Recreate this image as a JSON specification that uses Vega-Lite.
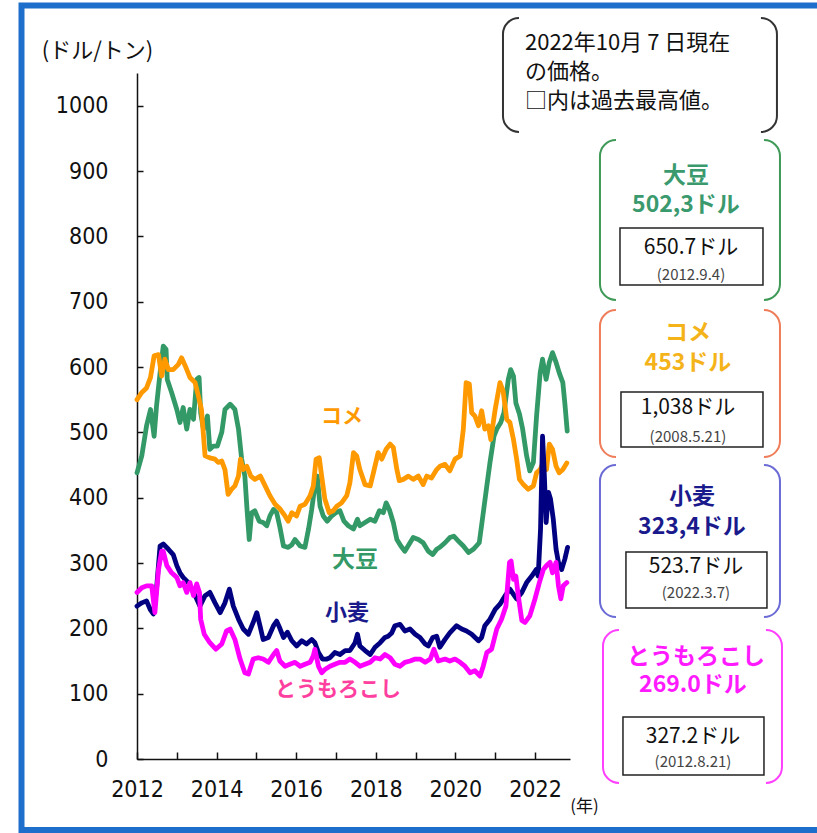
{
  "$schema": "https://vega.github.io/schema/vega-lite/v6.json",
  "autosize": {"type": "none"},
  "padding": {"left": 137, "top": 73, "right": 247, "bottom": 74},
  "width": 433,
  "height": 686,
  "background": "white",
  "config": {"view": {"stroke": null}},
  "datasets": {
    "prices": [
      {"item":"大豆","year":2012.0,"price":438},{"item":"大豆","year":2012.12,"price":464},{"item":"大豆","year":2012.24,"price":510},{"item":"大豆","year":2012.34,"price":535},{"item":"大豆","year":2012.43,"price":494},{"item":"大豆","year":2012.49,"price":540},{"item":"大豆","year":2012.58,"price":591},{"item":"大豆","year":2012.66,"price":632},{"item":"大豆","year":2012.73,"price":627},{"item":"大豆","year":2012.76,"price":581},{"item":"大豆","year":2012.87,"price":561},{"item":"大豆","year":2013.0,"price":535},{"item":"大豆","year":2013.08,"price":515},{"item":"大豆","year":2013.16,"price":538},{"item":"大豆","year":2013.25,"price":505},{"item":"大豆","year":2013.33,"price":535},{"item":"大豆","year":2013.42,"price":520},{"item":"大豆","year":2013.5,"price":581},{"item":"大豆","year":2013.56,"price":584},{"item":"大豆","year":2013.6,"price":530},{"item":"大豆","year":2013.67,"price":505},{"item":"大豆","year":2013.77,"price":525},{"item":"大豆","year":2013.83,"price":474},{"item":"大豆","year":2013.92,"price":479},{"item":"大豆","year":2014.02,"price":479},{"item":"大豆","year":2014.13,"price":500},{"item":"大豆","year":2014.21,"price":535},{"item":"大豆","year":2014.34,"price":543},{"item":"大豆","year":2014.46,"price":535},{"item":"大豆","year":2014.55,"price":505},{"item":"大豆","year":2014.63,"price":459},{"item":"大豆","year":2014.71,"price":433},{"item":"大豆","year":2014.77,"price":377},{"item":"大豆","year":2014.82,"price":336},{"item":"大豆","year":2014.88,"price":377},{"item":"大豆","year":2014.96,"price":380},{"item":"大豆","year":2015.07,"price":364},{"item":"大豆","year":2015.17,"price":362},{"item":"大豆","year":2015.26,"price":357},{"item":"大豆","year":2015.34,"price":372},{"item":"大豆","year":2015.43,"price":382},{"item":"大豆","year":2015.51,"price":377},{"item":"大豆","year":2015.59,"price":355},{"item":"大豆","year":2015.68,"price":326},{"item":"大豆","year":2015.8,"price":324},{"item":"大豆","year":2015.89,"price":328},{"item":"大豆","year":2015.97,"price":336},{"item":"大豆","year":2016.1,"price":326},{"item":"大豆","year":2016.22,"price":324},{"item":"大豆","year":2016.31,"price":352},{"item":"大豆","year":2016.39,"price":382},{"item":"大豆","year":2016.47,"price":418},{"item":"大豆","year":2016.53,"price":433},{"item":"大豆","year":2016.6,"price":387},{"item":"大豆","year":2016.68,"price":372},{"item":"大豆","year":2016.78,"price":364},{"item":"大豆","year":2016.89,"price":372},{"item":"大豆","year":2017.0,"price":377},{"item":"大豆","year":2017.1,"price":380},{"item":"大豆","year":2017.2,"price":364},{"item":"大豆","year":2017.31,"price":357},{"item":"大豆","year":2017.44,"price":352},{"item":"大豆","year":2017.54,"price":367},{"item":"大豆","year":2017.6,"price":357},{"item":"大豆","year":2017.73,"price":362},{"item":"大豆","year":2017.86,"price":367},{"item":"大豆","year":2017.98,"price":364},{"item":"大豆","year":2018.09,"price":380},{"item":"大豆","year":2018.19,"price":377},{"item":"大豆","year":2018.26,"price":392},{"item":"大豆","year":2018.34,"price":382},{"item":"大豆","year":2018.44,"price":362},{"item":"大豆","year":2018.53,"price":336},{"item":"大豆","year":2018.63,"price":326},{"item":"大豆","year":2018.73,"price":318},{"item":"大豆","year":2018.86,"price":331},{"item":"大豆","year":2018.94,"price":339},{"item":"大豆","year":2019.07,"price":336},{"item":"大豆","year":2019.19,"price":331},{"item":"大豆","year":2019.32,"price":318},{"item":"大豆","year":2019.43,"price":313},{"item":"大豆","year":2019.53,"price":321},{"item":"大豆","year":2019.61,"price":324},{"item":"大豆","year":2019.74,"price":331},{"item":"大豆","year":2019.86,"price":339},{"item":"大豆","year":2019.96,"price":341},{"item":"大豆","year":2020.07,"price":334},{"item":"大豆","year":2020.2,"price":326},{"item":"大豆","year":2020.33,"price":316},{"item":"大豆","year":2020.45,"price":321},{"item":"大豆","year":2020.6,"price":331},{"item":"大豆","year":2020.69,"price":372},{"item":"大豆","year":2020.79,"price":418},{"item":"大豆","year":2020.87,"price":454},{"item":"大豆","year":2020.97,"price":494},{"item":"大豆","year":2021.04,"price":505},{"item":"大豆","year":2021.14,"price":515},{"item":"大豆","year":2021.22,"price":530},{"item":"大豆","year":2021.33,"price":581},{"item":"大豆","year":2021.39,"price":596},{"item":"大豆","year":2021.46,"price":586},{"item":"大豆","year":2021.52,"price":545},{"item":"大豆","year":2021.61,"price":528},{"item":"大豆","year":2021.69,"price":505},{"item":"大豆","year":2021.79,"price":464},{"item":"大豆","year":2021.87,"price":441},{"item":"大豆","year":2021.96,"price":454},{"item":"大豆","year":2022.04,"price":525},{"item":"大豆","year":2022.13,"price":591},{"item":"大豆","year":2022.19,"price":612},{"item":"大豆","year":2022.28,"price":581},{"item":"大豆","year":2022.36,"price":607},{"item":"大豆","year":2022.44,"price":622},{"item":"大豆","year":2022.53,"price":607},{"item":"大豆","year":2022.61,"price":591},{"item":"大豆","year":2022.7,"price":576},{"item":"大豆","year":2022.75,"price":545},{"item":"大豆","year":2022.81,"price":502},
      {"item":"コメ","year":2012.0,"price":550},{"item":"コメ","year":2012.12,"price":561},{"item":"コメ","year":2012.24,"price":568},{"item":"コメ","year":2012.34,"price":584},{"item":"コメ","year":2012.43,"price":617},{"item":"コメ","year":2012.54,"price":619},{"item":"コメ","year":2012.62,"price":586},{"item":"コメ","year":2012.7,"price":612},{"item":"コメ","year":2012.79,"price":596},{"item":"コメ","year":2012.91,"price":596},{"item":"コメ","year":2013.04,"price":604},{"item":"コメ","year":2013.12,"price":614},{"item":"コメ","year":2013.21,"price":602},{"item":"コメ","year":2013.33,"price":584},{"item":"コメ","year":2013.46,"price":576},{"item":"コメ","year":2013.54,"price":556},{"item":"コメ","year":2013.62,"price":535},{"item":"コメ","year":2013.71,"price":464},{"item":"コメ","year":2013.83,"price":461},{"item":"コメ","year":2013.96,"price":459},{"item":"コメ","year":2014.04,"price":454},{"item":"コメ","year":2014.13,"price":456},{"item":"コメ","year":2014.21,"price":443},{"item":"コメ","year":2014.29,"price":405},{"item":"コメ","year":2014.38,"price":413},{"item":"コメ","year":2014.46,"price":418},{"item":"コメ","year":2014.55,"price":433},{"item":"コメ","year":2014.6,"price":459},{"item":"コメ","year":2014.67,"price":443},{"item":"コメ","year":2014.76,"price":448},{"item":"コメ","year":2014.86,"price":433},{"item":"コメ","year":2014.96,"price":428},{"item":"コメ","year":2015.1,"price":433},{"item":"コメ","year":2015.22,"price":418},{"item":"コメ","year":2015.34,"price":403},{"item":"コメ","year":2015.47,"price":390},{"item":"コメ","year":2015.59,"price":383},{"item":"コメ","year":2015.72,"price":372},{"item":"コメ","year":2015.8,"price":364},{"item":"コメ","year":2015.89,"price":377},{"item":"コメ","year":2016.01,"price":372},{"item":"コメ","year":2016.1,"price":387},{"item":"コメ","year":2016.22,"price":390},{"item":"コメ","year":2016.35,"price":403},{"item":"コメ","year":2016.43,"price":418},{"item":"コメ","year":2016.5,"price":459},{"item":"コメ","year":2016.58,"price":461},{"item":"コメ","year":2016.64,"price":433},{"item":"コメ","year":2016.72,"price":398},{"item":"コメ","year":2016.83,"price":377},{"item":"コメ","year":2016.93,"price":380},{"item":"コメ","year":2017.02,"price":387},{"item":"コメ","year":2017.14,"price":392},{"item":"コメ","year":2017.27,"price":403},{"item":"コメ","year":2017.35,"price":423},{"item":"コメ","year":2017.44,"price":469},{"item":"コメ","year":2017.52,"price":464},{"item":"コメ","year":2017.6,"price":443},{"item":"コメ","year":2017.73,"price":420},{"item":"コメ","year":2017.86,"price":418},{"item":"コメ","year":2017.94,"price":438},{"item":"コメ","year":2018.06,"price":469},{"item":"コメ","year":2018.15,"price":459},{"item":"コメ","year":2018.26,"price":474},{"item":"コメ","year":2018.36,"price":482},{"item":"コメ","year":2018.44,"price":477},{"item":"コメ","year":2018.53,"price":443},{"item":"コメ","year":2018.59,"price":426},{"item":"コメ","year":2018.69,"price":428},{"item":"コメ","year":2018.82,"price":433},{"item":"コメ","year":2018.94,"price":428},{"item":"コメ","year":2019.07,"price":433},{"item":"コメ","year":2019.19,"price":420},{"item":"コメ","year":2019.28,"price":433},{"item":"コメ","year":2019.4,"price":430},{"item":"コメ","year":2019.53,"price":443},{"item":"コメ","year":2019.61,"price":448},{"item":"コメ","year":2019.74,"price":451},{"item":"コメ","year":2019.86,"price":441},{"item":"コメ","year":2019.99,"price":459},{"item":"コメ","year":2020.12,"price":464},{"item":"コメ","year":2020.2,"price":505},{"item":"コメ","year":2020.27,"price":576},{"item":"コメ","year":2020.35,"price":574},{"item":"コメ","year":2020.41,"price":530},{"item":"コメ","year":2020.49,"price":525},{"item":"コメ","year":2020.58,"price":510},{"item":"コメ","year":2020.66,"price":533},{"item":"コメ","year":2020.74,"price":505},{"item":"コメ","year":2020.83,"price":510},{"item":"コメ","year":2020.89,"price":489},{"item":"コメ","year":2021.0,"price":535},{"item":"コメ","year":2021.12,"price":576},{"item":"コメ","year":2021.2,"price":563},{"item":"コメ","year":2021.29,"price":520},{"item":"コメ","year":2021.37,"price":515},{"item":"コメ","year":2021.46,"price":489},{"item":"コメ","year":2021.54,"price":459},{"item":"コメ","year":2021.61,"price":428},{"item":"コメ","year":2021.71,"price":420},{"item":"コメ","year":2021.83,"price":413},{"item":"コメ","year":2021.96,"price":418},{"item":"コメ","year":2022.04,"price":438},{"item":"コメ","year":2022.13,"price":443},{"item":"コメ","year":2022.21,"price":454},{"item":"コメ","year":2022.29,"price":443},{"item":"コメ","year":2022.36,"price":482},{"item":"コメ","year":2022.44,"price":474},{"item":"コメ","year":2022.53,"price":448},{"item":"コメ","year":2022.61,"price":438},{"item":"コメ","year":2022.7,"price":443},{"item":"コメ","year":2022.8,"price":453},
      {"item":"小麦","year":2012.0,"price":234},{"item":"小麦","year":2012.12,"price":239},{"item":"小麦","year":2012.24,"price":242},{"item":"小麦","year":2012.33,"price":229},{"item":"小麦","year":2012.41,"price":222},{"item":"小麦","year":2012.49,"price":260},{"item":"小麦","year":2012.58,"price":326},{"item":"小麦","year":2012.66,"price":329},{"item":"小麦","year":2012.79,"price":321},{"item":"小麦","year":2012.91,"price":313},{"item":"小麦","year":2013.0,"price":296},{"item":"小麦","year":2013.08,"price":285},{"item":"小麦","year":2013.16,"price":278},{"item":"小麦","year":2013.29,"price":270},{"item":"小麦","year":2013.42,"price":255},{"item":"小麦","year":2013.5,"price":245},{"item":"小麦","year":2013.58,"price":234},{"item":"小麦","year":2013.71,"price":250},{"item":"小麦","year":2013.83,"price":255},{"item":"小麦","year":2013.96,"price":239},{"item":"小麦","year":2014.09,"price":224},{"item":"小麦","year":2014.21,"price":239},{"item":"小麦","year":2014.32,"price":260},{"item":"小麦","year":2014.42,"price":234},{"item":"小麦","year":2014.55,"price":214},{"item":"小麦","year":2014.67,"price":199},{"item":"小麦","year":2014.8,"price":191},{"item":"小麦","year":2014.92,"price":209},{"item":"小麦","year":2015.01,"price":224},{"item":"小麦","year":2015.09,"price":204},{"item":"小麦","year":2015.17,"price":183},{"item":"小麦","year":2015.3,"price":186},{"item":"小麦","year":2015.43,"price":204},{"item":"小麦","year":2015.51,"price":211},{"item":"小麦","year":2015.59,"price":200},{"item":"小麦","year":2015.68,"price":186},{"item":"小麦","year":2015.78,"price":194},{"item":"小麦","year":2015.89,"price":181},{"item":"小麦","year":2016.01,"price":173},{"item":"小麦","year":2016.14,"price":181},{"item":"小麦","year":2016.26,"price":176},{"item":"小麦","year":2016.39,"price":183},{"item":"小麦","year":2016.47,"price":178},{"item":"小麦","year":2016.56,"price":163},{"item":"小麦","year":2016.66,"price":153},{"item":"小麦","year":2016.77,"price":153},{"item":"小麦","year":2016.85,"price":155},{"item":"小麦","year":2016.97,"price":163},{"item":"小麦","year":2017.1,"price":160},{"item":"小麦","year":2017.23,"price":166},{"item":"小麦","year":2017.35,"price":166},{"item":"小麦","year":2017.48,"price":178},{"item":"小麦","year":2017.54,"price":191},{"item":"小麦","year":2017.6,"price":173},{"item":"小麦","year":2017.73,"price":166},{"item":"小麦","year":2017.86,"price":160},{"item":"小麦","year":2017.98,"price":171},{"item":"小麦","year":2018.11,"price":178},{"item":"小麦","year":2018.23,"price":186},{"item":"小麦","year":2018.31,"price":188},{"item":"小麦","year":2018.4,"price":193},{"item":"小麦","year":2018.48,"price":204},{"item":"小麦","year":2018.61,"price":206},{"item":"小麦","year":2018.73,"price":196},{"item":"小麦","year":2018.86,"price":199},{"item":"小麦","year":2018.99,"price":191},{"item":"小麦","year":2019.11,"price":186},{"item":"小麦","year":2019.24,"price":176},{"item":"小麦","year":2019.32,"price":173},{"item":"小麦","year":2019.43,"price":186},{"item":"小麦","year":2019.53,"price":188},{"item":"小麦","year":2019.61,"price":171},{"item":"小麦","year":2019.74,"price":183},{"item":"小麦","year":2019.86,"price":193},{"item":"小麦","year":2020.03,"price":204},{"item":"小麦","year":2020.16,"price":199},{"item":"小麦","year":2020.28,"price":196},{"item":"小麦","year":2020.41,"price":191},{"item":"小麦","year":2020.58,"price":181},{"item":"小麦","year":2020.66,"price":186},{"item":"小麦","year":2020.74,"price":204},{"item":"小麦","year":2020.87,"price":214},{"item":"小麦","year":2021.0,"price":229},{"item":"小麦","year":2021.12,"price":237},{"item":"小麦","year":2021.25,"price":250},{"item":"小麦","year":2021.37,"price":260},{"item":"小麦","year":2021.46,"price":252},{"item":"小麦","year":2021.54,"price":245},{"item":"小麦","year":2021.67,"price":255},{"item":"小麦","year":2021.79,"price":270},{"item":"小麦","year":2021.92,"price":280},{"item":"小麦","year":2022.03,"price":290},{"item":"小麦","year":2022.08,"price":280},{"item":"小麦","year":2022.14,"price":352},{"item":"小麦","year":2022.19,"price":494},{"item":"小麦","year":2022.23,"price":443},{"item":"小麦","year":2022.28,"price":362},{"item":"小麦","year":2022.34,"price":408},{"item":"小麦","year":2022.39,"price":398},{"item":"小麦","year":2022.46,"price":367},{"item":"小麦","year":2022.53,"price":321},{"item":"小麦","year":2022.59,"price":301},{"item":"小麦","year":2022.67,"price":290},{"item":"小麦","year":2022.75,"price":306},{"item":"小麦","year":2022.82,"price":324},
      {"item":"とうもろこし","year":2012.0,"price":255},{"item":"とうもろこし","year":2012.12,"price":262},{"item":"とうもろこし","year":2012.24,"price":265},{"item":"とうもろこし","year":2012.37,"price":265},{"item":"とうもろこし","year":2012.45,"price":224},{"item":"とうもろこし","year":2012.54,"price":290},{"item":"とうもろこし","year":2012.62,"price":318},{"item":"とうもろこし","year":2012.66,"price":318},{"item":"とうもろこし","year":2012.75,"price":296},{"item":"とうもろこし","year":2012.87,"price":285},{"item":"とうもろこし","year":2013.0,"price":278},{"item":"とうもろこし","year":2013.08,"price":265},{"item":"とうもろこし","year":2013.16,"price":270},{"item":"とうもろこし","year":2013.25,"price":255},{"item":"とうもろこし","year":2013.33,"price":270},{"item":"とうもろこし","year":2013.42,"price":250},{"item":"とうもろこし","year":2013.5,"price":268},{"item":"とうもろこし","year":2013.57,"price":255},{"item":"とうもろこし","year":2013.6,"price":214},{"item":"とうもろこし","year":2013.69,"price":191},{"item":"とうもろこし","year":2013.83,"price":178},{"item":"とうもろこし","year":2013.98,"price":168},{"item":"とうもろこし","year":2014.13,"price":176},{"item":"とうもろこし","year":2014.25,"price":196},{"item":"とうもろこし","year":2014.34,"price":199},{"item":"とうもろこし","year":2014.46,"price":183},{"item":"とうもろこし","year":2014.59,"price":153},{"item":"とうもろこし","year":2014.71,"price":132},{"item":"とうもろこし","year":2014.8,"price":130},{"item":"とうもろこし","year":2014.92,"price":153},{"item":"とうもろこし","year":2015.05,"price":155},{"item":"とうもろこし","year":2015.17,"price":153},{"item":"とうもろこし","year":2015.3,"price":148},{"item":"とうもろこし","year":2015.43,"price":160},{"item":"とうもろこし","year":2015.51,"price":166},{"item":"とうもろこし","year":2015.59,"price":150},{"item":"とうもろこし","year":2015.72,"price":142},{"item":"とうもろこし","year":2015.84,"price":145},{"item":"とうもろこし","year":2015.97,"price":148},{"item":"とうもろこし","year":2016.1,"price":142},{"item":"とうもろこし","year":2016.22,"price":145},{"item":"とうもろこし","year":2016.35,"price":148},{"item":"とうもろこし","year":2016.43,"price":158},{"item":"とうもろこし","year":2016.47,"price":168},{"item":"とうもろこし","year":2016.56,"price":142},{"item":"とうもろこし","year":2016.64,"price":132},{"item":"とうもろこし","year":2016.72,"price":137},{"item":"とうもろこし","year":2016.85,"price":142},{"item":"とうもろこし","year":2016.97,"price":145},{"item":"とうもろこし","year":2017.1,"price":148},{"item":"とうもろこし","year":2017.23,"price":148},{"item":"とうもろこし","year":2017.35,"price":153},{"item":"とうもろこし","year":2017.48,"price":148},{"item":"とうもろこし","year":2017.6,"price":142},{"item":"とうもろこし","year":2017.73,"price":145},{"item":"とうもろこし","year":2017.86,"price":148},{"item":"とうもろこし","year":2017.98,"price":155},{"item":"とうもろこし","year":2018.11,"price":153},{"item":"とうもろこし","year":2018.23,"price":160},{"item":"とうもろこし","year":2018.36,"price":155},{"item":"とうもろこし","year":2018.48,"price":145},{"item":"とうもろこし","year":2018.61,"price":142},{"item":"とうもろこし","year":2018.73,"price":148},{"item":"とうもろこし","year":2018.86,"price":150},{"item":"とうもろこし","year":2018.99,"price":153},{"item":"とうもろこし","year":2019.11,"price":153},{"item":"とうもろこし","year":2019.24,"price":148},{"item":"とうもろこし","year":2019.37,"price":153},{"item":"とうもろこし","year":2019.46,"price":168},{"item":"とうもろこし","year":2019.57,"price":150},{"item":"とうもろこし","year":2019.74,"price":153},{"item":"とうもろこし","year":2019.86,"price":150},{"item":"とうもろこし","year":2019.99,"price":153},{"item":"とうもろこし","year":2020.12,"price":148},{"item":"とうもろこし","year":2020.24,"price":142},{"item":"とうもろこし","year":2020.37,"price":132},{"item":"とうもろこし","year":2020.49,"price":135},{"item":"とうもろこし","year":2020.62,"price":127},{"item":"とうもろこし","year":2020.7,"price":142},{"item":"とうもろこし","year":2020.79,"price":163},{"item":"とうもろこし","year":2020.91,"price":168},{"item":"とうもろこし","year":2021.04,"price":199},{"item":"とうもろこし","year":2021.16,"price":214},{"item":"とうもろこし","year":2021.27,"price":234},{"item":"とうもろこし","year":2021.36,"price":301},{"item":"とうもろこし","year":2021.4,"price":303},{"item":"とうもろこし","year":2021.46,"price":275},{"item":"とうもろこし","year":2021.52,"price":280},{"item":"とうもろこし","year":2021.58,"price":250},{"item":"とうもろこし","year":2021.67,"price":212},{"item":"とうもろこし","year":2021.75,"price":209},{"item":"とうもろこし","year":2021.87,"price":219},{"item":"とうもろこし","year":2022.0,"price":245},{"item":"とうもろこし","year":2022.11,"price":270},{"item":"とうもろこし","year":2022.21,"price":290},{"item":"とうもろこし","year":2022.29,"price":296},{"item":"とうもろこし","year":2022.38,"price":301},{"item":"とうもろこし","year":2022.44,"price":285},{"item":"とうもろこし","year":2022.53,"price":301},{"item":"とうもろこし","year":2022.59,"price":265},{"item":"とうもろこし","year":2022.65,"price":245},{"item":"とうもろこし","year":2022.71,"price":265},{"item":"とうもろこし","year":2022.8,"price":270}
    ],
    "one": [{}]
  },
  "layer": [
    {
      "data": {"name": "one"},
      "mark": {"type": "rect", "filled": false, "stroke": "#1e6fcc", "strokeWidth": 6},
      "encoding": {"x": {"datum": 2009.098}, "x2": {"datum": 2029.211}, "y": {"datum": 1153.3}, "y2": {"datum": -108.7}}
    },
    {
      "data": {"name": "prices"},
      "mark": {"type": "line", "strokeWidth": 4.8, "strokeJoin": "round", "strokeCap": "round"},
      "encoding": {
        "x": {"field": "year", "type": "quantitative",
          "scale": {"domain": [2012, 2022.88], "nice": false, "zero": false},
          "axis": {"title": "(年)", "titleFont": "Noto Sans CJK JP", "titleFontSize": 17, "titleFontWeight": "normal", "titleColor": "#111", "titleAngle": 0, "titleAlign": "center", "titleBaseline": "middle", "titleX": 447, "titleY": 47,
            "values": [2012,2013,2014,2015,2016,2017,2018,2019,2020,2021,2022],
            "labelExpr": "datum.value % 2 === 0 ? '' + datum.value : ''",
            "labelFont": "Liberation Sans Narrow, DejaVu Sans Condensed, Liberation Sans", "labelFontSize": 23, "labelColor": "#111", "labelPadding": 26, "labelFlush": false, "labelOverlap": false,
            "tickSize": -7, "tickColor": "#111", "tickWidth": 1.5, "domainColor": "#111", "domainWidth": 1.5, "grid": false}},
        "y": {"field": "price", "type": "quantitative",
          "scale": {"domain": [0, 1050], "nice": false},
          "axis": {"title": "(ドル/トン)", "titleFont": "Noto Sans CJK JP", "titleFontSize": 22, "titleFontWeight": "normal", "titleColor": "#111", "titleAngle": 0, "titleAlign": "center", "titleBaseline": "middle", "titleX": -40, "titleY": -23,
            "values": [0,100,200,300,400,500,600,700,800,900,1000], "format": "d",
            "labelFont": "Liberation Sans Narrow, DejaVu Sans Condensed, Liberation Sans", "labelFontSize": 23, "labelColor": "#111", "labelPadding": 35, "labelFlush": false, "labelOverlap": false,
            "tickSize": -6, "tickColor": "#111", "tickWidth": 1.5, "domainColor": "#111", "domainWidth": 1.5, "grid": false}},
        "color": {"field": "item", "type": "nominal", "legend": null,
          "scale": {"domain": ["大豆", "コメ", "小麦", "とうもろこし"], "range": ["#339966", "#ff9900", "#000080", "#ff00ff"]}},
        "order": {"field": "year", "type": "quantitative"}
      }
    },
    {"data": {"name": "one"}, "mark": {"type": "text", "text": "コメ", "font": "Noto Sans CJK JP", "fontSize": 21, "fontWeight": "bold", "fill": "#ff9900", "align": "center", "baseline": "middle"}, "encoding": {"x": {"datum": 2017.151}, "y": {"datum": 523.5}}},
    {"data": {"name": "one"}, "mark": {"type": "text", "text": "大豆", "font": "Noto Sans CJK JP", "fontSize": 23, "fontWeight": "bold", "fill": "#339966", "align": "center", "baseline": "middle"}, "encoding": {"x": {"datum": 2017.477}, "y": {"datum": 304.6}}},
    {"data": {"name": "one"}, "mark": {"type": "text", "text": "小麦", "font": "Noto Sans CJK JP", "fontSize": 22, "fontWeight": "bold", "fill": "#1a1a8c", "align": "center", "baseline": "middle"}, "encoding": {"x": {"datum": 2017.276}, "y": {"datum": 223.5}}},
    {"data": {"name": "one"}, "mark": {"type": "text", "text": "とうもろこし", "font": "Noto Sans CJK JP", "fontSize": 21, "fontWeight": "bold", "fill": "#ff3fa0", "align": "center", "baseline": "middle"}, "encoding": {"x": {"datum": 2017.05}, "y": {"datum": 105.6}}},

    {"data": {"name": "one"}, "mark": {"type": "rect", "filled": false, "stroke": "#333333", "strokeWidth": 2, "cornerRadius": 16}, "encoding": {"x": {"datum": 2021.196}, "x2": {"datum": 2028.080}, "y": {"datum": 1134.2}, "y2": {"datum": 959.7}}},
    {"data": {"name": "one"}, "mark": {"type": "rect", "fill": "white"}, "encoding": {"x": {"datum": 2021.598}, "x2": {"datum": 2027.678}, "y": {"datum": 1138.8}, "y2": {"datum": 955.1}}},
    {"data": {"name": "one"}, "mark": {"type": "text", "text": "2022年10月 7 日現在", "font": "Noto Sans CJK JP", "fontSize": 22, "fill": "#111", "align": "left", "baseline": "middle"}, "encoding": {"x": {"datum": 2021.749}, "y": {"datum": 1095.9}}},
    {"data": {"name": "one"}, "mark": {"type": "text", "text": "の価格。", "font": "Noto Sans CJK JP", "fontSize": 22, "fill": "#111", "align": "left", "baseline": "middle"}, "encoding": {"x": {"datum": 2021.749}, "y": {"datum": 1051.5}}},
    {"data": {"name": "one"}, "mark": {"type": "text", "text": "□内は過去最高値。", "font": "Noto Sans CJK JP", "fontSize": 22, "fill": "#111", "align": "left", "baseline": "middle"}, "encoding": {"x": {"datum": 2021.749}, "y": {"datum": 1007.1}}},

    {"data": {"name": "one"}, "mark": {"type": "rect", "filled": false, "stroke": "#3f9a57", "strokeWidth": 2, "cornerRadius": 16}, "encoding": {"x": {"datum": 2023.633}, "x2": {"datum": 2028.156}, "y": {"datum": 947.4}, "y2": {"datum": 702.6}}},
    {"data": {"name": "one"}, "mark": {"type": "rect", "fill": "white"}, "encoding": {"x": {"datum": 2024.035}, "x2": {"datum": 2027.754}, "y": {"datum": 952.0}, "y2": {"datum": 698.0}}},
    {"data": {"name": "one"}, "mark": {"type": "text", "text": "大豆", "font": "Noto Sans CJK JP", "fontSize": 23, "fontWeight": "bold", "fill": "#3a9a6e", "align": "center", "baseline": "middle"}, "encoding": {"x": {"datum": 2025.794}, "y": {"datum": 892.3}}},
    {"data": {"name": "one"}, "mark": {"type": "text", "text": "502,3ドル", "font": "Noto Sans CJK JP", "fontSize": 23, "fontWeight": "bold", "fill": "#3a9a6e", "align": "center", "baseline": "middle"}, "encoding": {"x": {"datum": 2025.794}, "y": {"datum": 848.0}}},
    {"data": {"name": "one"}, "mark": {"type": "rect", "fill": "white", "stroke": "#222", "strokeWidth": 1.5}, "encoding": {"x": {"datum": 2024.136}, "x2": {"datum": 2027.729}, "y": {"datum": 812.8}, "y2": {"datum": 725.5}}},
    {"data": {"name": "one"}, "mark": {"type": "text", "text": "650.7ドル", "font": "Noto Sans CJK JP", "fontSize": 21, "fill": "#111", "align": "center", "baseline": "middle"}, "encoding": {"x": {"datum": 2025.92}, "y": {"datum": 782.1}}},
    {"data": {"name": "one"}, "mark": {"type": "text", "text": "(2012.9.4)", "font": "Noto Sans CJK JP", "fontSize": 15, "fill": "#444", "align": "center", "baseline": "middle"}, "encoding": {"x": {"datum": 2025.92}, "y": {"datum": 740.8}}},

    {"data": {"name": "one"}, "mark": {"type": "rect", "filled": false, "stroke": "#ef7d5a", "strokeWidth": 2, "cornerRadius": 16}, "encoding": {"x": {"datum": 2023.633}, "x2": {"datum": 2028.156}, "y": {"datum": 687.2}, "y2": {"datum": 462.2}}},
    {"data": {"name": "one"}, "mark": {"type": "rect", "fill": "white"}, "encoding": {"x": {"datum": 2024.035}, "x2": {"datum": 2027.754}, "y": {"datum": 691.8}, "y2": {"datum": 457.7}}},
    {"data": {"name": "one"}, "mark": {"type": "text", "text": "コメ", "font": "Noto Sans CJK JP", "fontSize": 23, "fontWeight": "bold", "fill": "#f5b31a", "align": "center", "baseline": "middle"}, "encoding": {"x": {"datum": 2025.844}, "y": {"datum": 652.0}}},
    {"data": {"name": "one"}, "mark": {"type": "text", "text": "453ドル", "font": "Noto Sans CJK JP", "fontSize": 23, "fontWeight": "bold", "fill": "#f5b31a", "align": "center", "baseline": "middle"}, "encoding": {"x": {"datum": 2025.844}, "y": {"datum": 606.1}}},
    {"data": {"name": "one"}, "mark": {"type": "rect", "fill": "white", "stroke": "#222", "strokeWidth": 1.5}, "encoding": {"x": {"datum": 2024.161}, "x2": {"datum": 2027.729}, "y": {"datum": 561.7}, "y2": {"datum": 477.6}}},
    {"data": {"name": "one"}, "mark": {"type": "text", "text": "1,038ドル", "font": "Noto Sans CJK JP", "fontSize": 21, "fill": "#111", "align": "center", "baseline": "middle"}, "encoding": {"x": {"datum": 2025.844}, "y": {"datum": 537.2}}},
    {"data": {"name": "one"}, "mark": {"type": "text", "text": "(2008.5.21)", "font": "Noto Sans CJK JP", "fontSize": 15, "fill": "#444", "align": "center", "baseline": "middle"}, "encoding": {"x": {"datum": 2025.844}, "y": {"datum": 492.9}}},

    {"data": {"name": "one"}, "mark": {"type": "rect", "filled": false, "stroke": "#6b6bd6", "strokeWidth": 2, "cornerRadius": 16}, "encoding": {"x": {"datum": 2023.633}, "x2": {"datum": 2028.156}, "y": {"datum": 450.0}, "y2": {"datum": 217.3}}},
    {"data": {"name": "one"}, "mark": {"type": "rect", "fill": "white"}, "encoding": {"x": {"datum": 2024.035}, "x2": {"datum": 2027.754}, "y": {"datum": 454.6}, "y2": {"datum": 212.8}}},
    {"data": {"name": "one"}, "mark": {"type": "text", "text": "小麦", "font": "Noto Sans CJK JP", "fontSize": 23, "fontWeight": "bold", "fill": "#1a1a8c", "align": "center", "baseline": "middle"}, "encoding": {"x": {"datum": 2025.945}, "y": {"datum": 401.0}}},
    {"data": {"name": "one"}, "mark": {"type": "text", "text": "323,4ドル", "font": "Noto Sans CJK JP", "fontSize": 23, "fontWeight": "bold", "fill": "#1a1a8c", "align": "center", "baseline": "middle"}, "encoding": {"x": {"datum": 2025.945}, "y": {"datum": 355.1}}},
    {"data": {"name": "one"}, "mark": {"type": "rect", "fill": "white", "stroke": "#222", "strokeWidth": 1.5}, "encoding": {"x": {"datum": 2024.286}, "x2": {"datum": 2027.829}, "y": {"datum": 316.8}, "y2": {"datum": 231.1}}},
    {"data": {"name": "one"}, "mark": {"type": "text", "text": "523.7ドル", "font": "Noto Sans CJK JP", "fontSize": 21, "fill": "#111", "align": "center", "baseline": "middle"}, "encoding": {"x": {"datum": 2026.045}, "y": {"datum": 293.9}}},
    {"data": {"name": "one"}, "mark": {"type": "text", "text": "(2022.3.7)", "font": "Noto Sans CJK JP", "fontSize": 15, "fill": "#444", "align": "center", "baseline": "middle"}, "encoding": {"x": {"datum": 2026.045}, "y": {"datum": 254.1}}},

    {"data": {"name": "one"}, "mark": {"type": "rect", "filled": false, "stroke": "#ff40ff", "strokeWidth": 2, "cornerRadius": 16}, "encoding": {"x": {"datum": 2023.709}, "x2": {"datum": 2028.206}, "y": {"datum": 197.4}, "y2": {"datum": -36.7}}},
    {"data": {"name": "one"}, "mark": {"type": "rect", "fill": "white"}, "encoding": {"x": {"datum": 2024.111}, "x2": {"datum": 2027.804}, "y": {"datum": 202.0}, "y2": {"datum": -41.3}}},
    {"data": {"name": "one"}, "mark": {"type": "text", "text": "とうもろこし", "font": "Noto Sans CJK JP", "fontSize": 23, "fontWeight": "bold", "fill": "#ff1aff", "align": "center", "baseline": "middle"}, "encoding": {"x": {"datum": 2026.045}, "y": {"datum": 156.1}}},
    {"data": {"name": "one"}, "mark": {"type": "text", "text": "269.0ドル", "font": "Noto Sans CJK JP", "fontSize": 23, "fontWeight": "bold", "fill": "#ff1aff", "align": "center", "baseline": "middle"}, "encoding": {"x": {"datum": 2025.97}, "y": {"datum": 113.3}}},
    {"data": {"name": "one"}, "mark": {"type": "rect", "fill": "white", "stroke": "#222", "strokeWidth": 1.5}, "encoding": {"x": {"datum": 2024.211}, "x2": {"datum": 2027.754}, "y": {"datum": 64.3}, "y2": {"datum": -24.5}}},
    {"data": {"name": "one"}, "mark": {"type": "text", "text": "327.2ドル", "font": "Noto Sans CJK JP", "fontSize": 21, "fill": "#111", "align": "center", "baseline": "middle"}, "encoding": {"x": {"datum": 2025.97}, "y": {"datum": 33.7}}},
    {"data": {"name": "one"}, "mark": {"type": "text", "text": "(2012.8.21)", "font": "Noto Sans CJK JP", "fontSize": 15, "fill": "#444", "align": "center", "baseline": "middle"}, "encoding": {"x": {"datum": 2025.97}, "y": {"datum": -4.6}}}
  ]
}
